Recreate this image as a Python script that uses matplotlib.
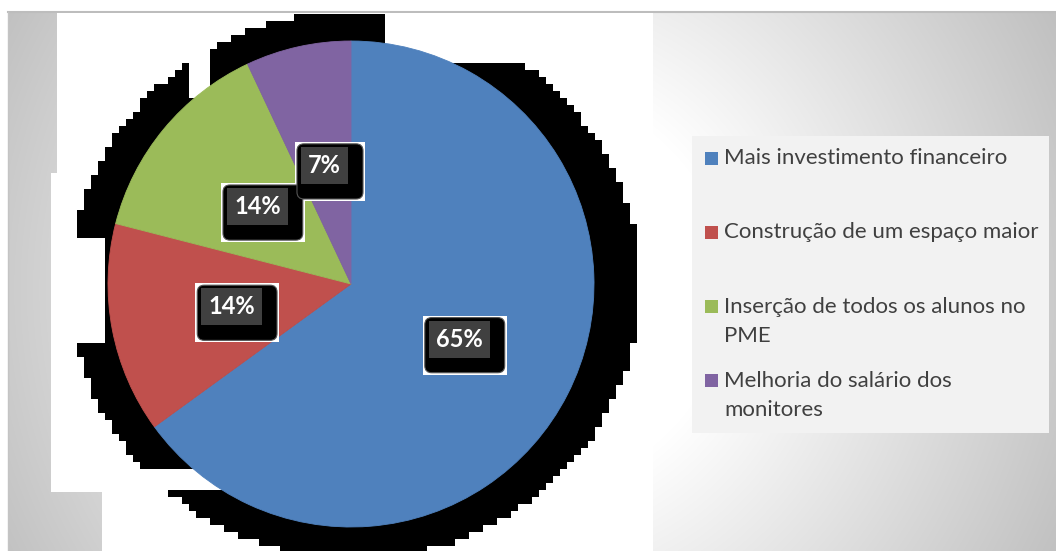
import textwrap
import numpy as np
import matplotlib
matplotlib.use("Agg")
import matplotlib.pyplot as plt
from matplotlib.patches import Rectangle, FancyBboxPatch, Polygon

# data
categories = [
    "Mais investimento financeiro",
    "Construção de um espaço maior",
    "Inserção de todos os alunos no PME",
    "Melhoria do salário dos monitores",
]
values = [65, 14, 14, 7]
colors = ["#4F81BD", "#C0504D", "#9BBB59", "#8064A2"]

W, H = 1056, 551
plt.rcParams["font.family"] = ["Lato", "DejaVu Sans"]

fig = plt.figure(figsize=(W / 100, H / 100), dpi=100)
fig.patch.set_facecolor("white")

# background axes in pixel coordinates
bg = fig.add_axes([0, 0, 1, 1])
bg.set_xlim(0, W)
bg.set_ylim(H, 0)
bg.axis("off")

# radial gray gradient for the chart area
yy, xx = np.mgrid[0:H, 0:W] + 0.5
d = np.hypot(xx - 528, yy - 290)
t = np.clip((d - 200) / 400, 0, 1)
g = 1 - 0.25 * t
img = np.dstack([g, g, g, np.ones_like(g)])
img[(xx < 8) | (yy < 12)] = [1, 1, 1, 1]
bg.imshow(img, extent=(0, W, H, 0), interpolation="bilinear", zorder=0)
bg.plot([8, W], [12, 12], color="#bdbdbd", lw=1.5, zorder=1)
bg.plot([8, 8], [12, H], color="#c4c4c4", lw=1, zorder=1)

# white plot area
white_area = [(57, 13), (653, 13), (653, H), (102, H), (102, 492),
              (51, 492), (51, 173), (57, 173)]
bg.add_patch(Polygon(white_area, closed=True, fc="white", ec="none", zorder=2))

# jagged black shadow behind the pie
cell = 7
nx, ny = int(np.ceil(W / cell)), int(np.ceil(H / cell))
cy, cx = (np.mgrid[0:ny, 0:nx] + 0.5) * cell
shadow = ((cx - 355) / 285) ** 2 + ((cy - 285) / 274) ** 2 <= 1
shadow &= cy > 12
shadow &= ~((cx > 190) & (cx < 210) & (cy < 100))
shadow &= ~((cx > 385) & (cy < 62))
shadow &= ~((cx < 107) & (cy > 240) & (cy < 341))
shadow &= ~((cx < 260) & (cy > 472) & (cy < 492))
simg = np.zeros((ny, nx, 4))
simg[..., 3] = shadow.astype(float)
bg.imshow(simg, extent=(0, nx * cell, ny * cell, 0), interpolation="nearest", zorder=3)

# legend
bg.add_patch(Rectangle((692, 136), 357, 297, fc="#f2f2f2", ec="none", zorder=4))
y0 = 158
for cat, col in zip(categories, colors):
    lines = textwrap.wrap(cat, 30)
    bg.add_patch(Rectangle((705, y0 - 6.5), 13, 13, fc=col, ec="none", zorder=5))
    for k, line in enumerate(lines):
        bg.text(724, y0 + k * 29, line, fontsize=16, color="#404040",
                va="center", ha="left", zorder=5)
    y0 += 74.3

# pie
R = 243
pcx, pcy = 351, 284
ax = fig.add_axes([(pcx - R) / W, (H - pcy - R) / H, 2 * R / W, 2 * R / H])
ax.set_facecolor("none")
wedges, texts, autotexts = ax.pie(
    values, colors=colors, startangle=90, counterclock=False,
    autopct="%.0f%%", pctdistance=0.5, radius=1,
    wedgeprops=dict(linewidth=0.6),
    textprops=dict(color="white", fontsize=17, fontweight="bold"),
)
for w in wedges:
    w.set_edgecolor(w.get_facecolor())
ax.set_xlim(-1, 1)
ax.set_ylim(-1, 1)
ax.axis("off")

for at in autotexts:
    at.set_bbox(dict(boxstyle="square,pad=0.3", fc="#404040", ec="none"))
    at.set_zorder(5)

fig.canvas.draw()
renderer = fig.canvas.get_renderer()
inv = ax.transData.inverted()
px = 1.0 / R
for at in autotexts:
    bb = at.get_bbox_patch().get_window_extent(renderer)
    (x0, yb), (x1, yt) = inv.transform([[bb.x0, bb.y0], [bb.x1, bb.y1]])
    ax.add_patch(Rectangle((x0 - 6 * px, yb - 17 * px), (x1 - x0) + 23 * px,
                           (yt - yb) + 22 * px, fc="white", ec="none",
                           zorder=3, clip_on=False))
    ax.add_patch(FancyBboxPatch((x0 - 4 * px, yb - 15 * px), (x1 - x0) + 19 * px,
                                (yt - yb) + 18 * px,
                                boxstyle="round,pad=0,rounding_size=%f" % (7 * px),
                                fc="black", ec="#555555", lw=0.8,
                                zorder=4, clip_on=False))

fig.savefig("out.png", dpi=100)
